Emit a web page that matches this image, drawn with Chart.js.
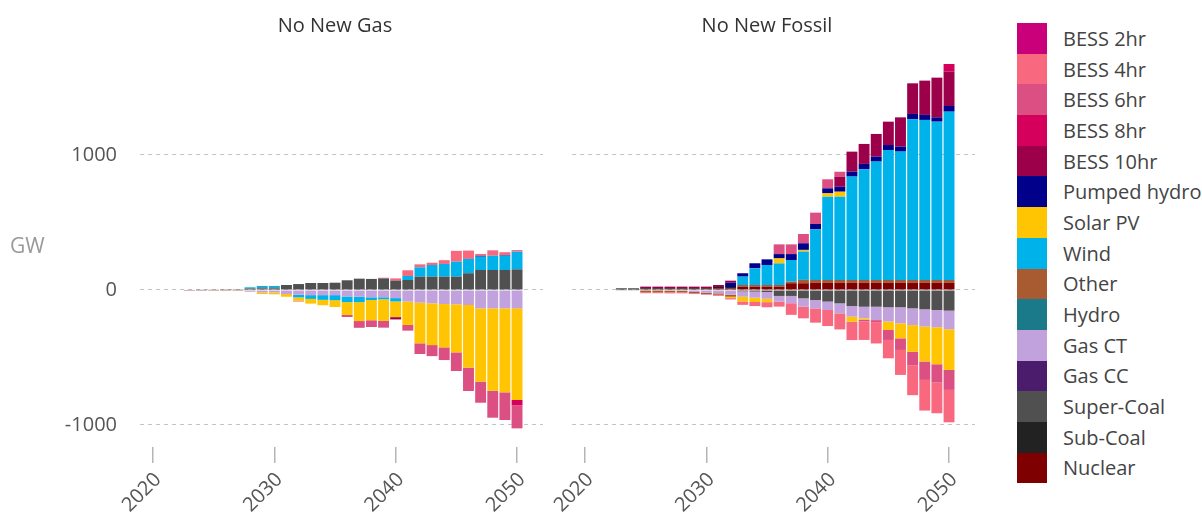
<!DOCTYPE html>
<html>
<head>
<meta charset="utf-8">
<script src="https://cdn.jsdelivr.net/npm/chart.js@4.4.1/dist/chart.umd.min.js"></script>
<style>
  body { margin: 0; background: #fff; font-family: "Open Sans", "Liberation Sans", Arial, sans-serif; }
  #wrap { position: relative; width: 1202px; height: 514px; overflow: hidden; }
  #wrap canvas { position: absolute; top: 0; }
  .facet-title { position: absolute; top: 11px; font-size: 20px; color: #333; transform: translateX(-50%); white-space: nowrap; }
  #yTitle { position: absolute; left: 10px; top: 231px; font-size: 21px; color: #999; }
  #legend { position: absolute; left: 1017px; top: 23px; }
  .item { display: flex; align-items: center; height: 30.7px; }
  .swatch { width: 30px; height: 30.7px; flex: none; }
  .item span { margin-left: 16px; font-size: 20px; color: #444; white-space: nowrap; }
</style>
</head>
<body>
<div id="wrap">
  <canvas id="gasChart" width="560" height="514" style="left:0;width:560px;height:514px"></canvas>
  <canvas id="fossilChart" width="500" height="514" style="left:500px;width:500px;height:514px"></canvas>
  <div class="facet-title" style="left:335px">No New Gas</div>
  <div class="facet-title" style="left:767px">No New Fossil</div>
  <div id="yTitle">GW</div>
  <div id="legend"></div>
</div>
<script>
const years = [2023, 2024, 2025, 2026, 2027, 2028, 2029, 2030, 2031, 2032, 2033, 2034, 2035, 2036,
  2037, 2038, 2039, 2040, 2041, 2042, 2043, 2044, 2045, 2046, 2047, 2048, 2049, 2050];

// stacking order, from the zero line outwards
const seriesNames = ["Nuclear", "Sub-Coal", "Super-Coal", "Gas CC", "Gas CT", "Hydro", "Other", "Wind",
  "Solar PV", "Pumped hydro", "BESS 10hr", "BESS 8hr", "BESS 6hr", "BESS 4hr", "BESS 2hr"];
const seriesColors = ["#7f0000", "#222222", "#505050", "#4b1c6b", "#c1a2dc", "#1a7a8a", "#a85a30", "#00b2ea",
  "#ffc503", "#00008b", "#9c004b", "#d4005c", "#dc4f82", "#f8687f", "#c9007a"];

const yTicks = [-1000, 0, 1000];
const xTicks = [2020, 2030, 2040, 2050];

// No New Gas (GW change vs. reference)
const gasSuperCoal = [4, 5, 5, 6, 6, 10, 12, 12, 37, 44, 52, 52, 54, 72, 84, 82, 86, 70, 74, 99, 99, 99, 99, 124, 148, 148, 148, 153];
const gasGasCT = [-2, -2, -3, -3, -3, -12, -18, -18, -30, -35, -38, -38, -38, -48, -50, -54, -54, -60, -86, -94, -99, -104, -106, -111, -136, -136, -136, -136];
const gasHydro = [0, 0, 0, 0, 0, 4, 8, 8, 0, 0, 0, 0, 0, 0, 0, 0, 0, 0, 0, 0, 0, 0, 0, 0, 0, 0, 0, 0];
const gasOther = [-3, -3, -3, -3, -3, 0, 0, 0, 0, 0, 0, 0, 0, 0, 0, 0, 0, 0, 0, 0, 0, 0, 0, 0, 0, 0, 0, 0];
const gasWind = [0, 0, 0, 0, 0, 6, 10, 10, 0, -20, -28, -35, -38, -42, -40, -20, -15, -25, 30, 69, 86, 94, 111, 106, 99, 106, 106, 131];
const gasSolar = [0, 0, 0, 0, 0, -3, -12, -14, -20, -25, -35, -40, -50, -95, -140, -150, -160, -116, -173, -301, -309, -321, -356, -464, -543, -610, -622, -679];
const gasPumped = [0, 0, 0, 0, 0, 0, 0, 0, 0, 0, 0, 0, 0, 0, 0, 0, 0, 0, 0, 0, 0, 0, 0, 0, 6, 0, 4, 0];
const gasBess10 = [0, 0, 0, 0, 0, 0, 0, 0, 0, 0, 0, 0, 0, 0, 0, 0, 0, -17, 0, 0, 0, 0, 0, 0, 0, 0, 0, 0];
const gasBess8 = [0, 0, 0, 0, 0, 0, 0, 0, 0, 0, 0, 0, 0, 0, 0, 0, 0, 0, 0, 0, 0, 0, 0, 0, 0, 0, 0, -40];
const gasBess6 = [0, 0, 0, 0, 0, 0, 0, 0, 0, -5, 0, 0, 0, -15, -50, -50, -50, 0, -42, -79, -82, -94, -138, -173, -156, -200, -205, -170];
const gasBess4 = [0, 0, 0, 0, 0, 0, 0, 0, 0, 0, 0, 0, 0, 0, 0, 0, 5, 16, 42, 22, 17, 28, 80, 62, 14, 40, 22, 12];

// No New Fossil
const fosNuclear = [4, 4, 6, 6, 6, 6, 6, 6, 10, 10, 25, 25, 25, 25, 50, 50, 54, 54, 54, 54, 54, 54, 54, 54, 54, 54, 54, 54];
const fosSubCoal = [8, 8, 7, 7, 7, 7, 7, 7, 12, 12, 0, 0, 0, 0, 0, 0, 0, 0, 0, 0, 0, 0, 0, 0, 0, 0, 0, 0];
const fosSuperCoal = [-5, -5, 0, 0, 0, 0, 0, 0, 0, 0, -10, -12, -15, -44, -44, -62, -74, -86, -99, -119, -124, -124, -128, -128, -136, -143, -148, -153];
const fosGasCT = [0, 0, -4, -4, -5, -5, -15, -20, -25, -35, -40, -45, -50, -42, -54, -62, -62, -62, -74, -79, -86, -99, -106, -119, -124, -128, -128, -138];
const fosOther = [0, 0, -12, -12, -12, -12, -10, -10, -10, -15, 12, 12, 12, 12, 12, 25, 20, 20, 20, 20, 20, 20, 20, 20, 20, 20, 20, 20];
const fosWind = [0, 0, 0, 0, 0, 0, 0, 0, 0, 0, 62, 124, 148, 160, 160, 210, 375, 617, 617, 766, 820, 877, 963, 951, 1190, 1186, 1173, 1247];
const fosSolar = [0, 0, 0, 0, 0, 0, 0, 0, 0, -10, -35, -32, -25, 37, 0, 12, 0, 25, 37, -37, -12, 0, -62, -111, -198, -259, -274, -301];
const fosPumped = [0, 0, 0, 0, 0, 0, 0, 0, 0, 32, 25, 37, 42, 32, 44, 49, 40, 37, 37, 37, 40, 37, 37, 37, 40, 37, 32, 42];
const fosBess10 = [0, 0, 12, 12, 12, 12, 12, 12, 15, 15, 0, 0, 0, 0, 0, 0, 0, 0, 74, 148, 148, 168, 173, 217, 227, 254, 294, 254];
const fosBess8 = [0, 0, 0, 0, 0, 0, 0, 0, 0, 0, 0, 0, 0, 0, 0, 0, 0, 0, 0, 0, 0, 0, 0, 0, 0, 0, 0, 57];
const fosBess6 = [0, 0, 0, 0, 0, 0, 0, 0, 0, 0, 0, 0, 0, 72, 72, 69, 84, 67, 37, 0, -10, -15, -74, -86, -99, -136, -136, -148];
const fosBess4 = [0, 0, -8, -8, -8, -8, -5, -5, -8, -10, -25, -30, -38, -37, -86, -86, -106, -119, -119, -136, -138, -158, -136, -185, -222, -227, -227, -240];

const noNewGas = {
  "Super-Coal": gasSuperCoal, "Gas CT": gasGasCT, "Hydro": gasHydro, "Other": gasOther,
  "Wind": gasWind, "Solar PV": gasSolar, "Pumped hydro": gasPumped,
  "BESS 10hr": gasBess10, "BESS 8hr": gasBess8, "BESS 6hr": gasBess6, "BESS 4hr": gasBess4
};
const noNewFossil = {
  "Nuclear": fosNuclear, "Sub-Coal": fosSubCoal, "Super-Coal": fosSuperCoal, "Gas CT": fosGasCT,
  "Other": fosOther, "Wind": fosWind, "Solar PV": fosSolar, "Pumped hydro": fosPumped,
  "BESS 10hr": fosBess10, "BESS 8hr": fosBess8, "BESS 6hr": fosBess6, "BESS 4hr": fosBess4
};

const tickFont = { family: "'Open Sans', 'Liberation Sans', Arial, sans-serif", size: 20 };

function buildPanel(canvasId, table, showYTicks, yAxisWidth, padRight) {
  const datasets = seriesNames
    .filter(name => table[name])
    .map(name => ({
      label: name,
      data: table[name],
      backgroundColor: seriesColors[seriesNames.indexOf(name)],
      borderWidth: 0,
      barPercentage: 0.9,
      categoryPercentage: 1
    }));

  return new Chart(document.getElementById(canvasId), {
    type: "bar",
    data: { labels: years, datasets },
    options: {
      responsive: false,
      animation: false,
      layout: { padding: { top: 47, right: padRight, left: 0, bottom: 0 } },
      plugins: { legend: { display: false }, tooltip: { enabled: false } },
      scales: {
        x: {
          type: "linear",
          stacked: true,
          offset: false,
          min: 2018.93,
          max: 2052.14,
          // fixed axis box so both panels share the same plot width
          afterFit: s => { s.height = 67; s.paddingLeft = 0; s.paddingRight = 0; },
          afterBuildTicks: s => { s.ticks = xTicks.map(v => ({ value: v })); },
          grid: { offset: false, drawOnChartArea: false, drawTicks: true, tickLength: 16, color: "#b5b5b5", lineWidth: 1.5 },
          border: { display: false },
          ticks: {
            autoSkip: false, minRotation: 45, maxRotation: 45, padding: 5, labelOffset: 5,
            color: "#555", font: tickFont, callback: v => String(v)
          }
        },
        y: {
          stacked: true,
          min: -1163,
          max: 1800,
          afterFit: s => { s.width = yAxisWidth; },
          afterBuildTicks: s => { s.ticks = yTicks.map(v => ({ value: v })); },
          grid: { color: "#c4c4c4", lineWidth: 1, drawTicks: false },
          border: { display: false, dash: [4, 4] },
          ticks: { display: showYTicks, padding: 23, color: "#555", font: tickFont, callback: v => String(v) }
        }
      }
    }
  });
}

buildPanel("gasChart", noNewGas, true, 140, 17);
// the right panel canvas starts left of its plot so the rotated 2020 label has room
buildPanel("fossilChart", noNewFossil, false, 72, 25);

// legend: top entry is the outermost stack layer
const legend = document.getElementById("legend");
seriesNames.slice().reverse().forEach(name => {
  const item = document.createElement("div");
  item.className = "item";
  const sw = document.createElement("div");
  sw.className = "swatch";
  sw.style.background = seriesColors[seriesNames.indexOf(name)];
  const label = document.createElement("span");
  label.textContent = name;
  item.appendChild(sw);
  item.appendChild(label);
  legend.appendChild(item);
});
</script>
</body>
</html>
